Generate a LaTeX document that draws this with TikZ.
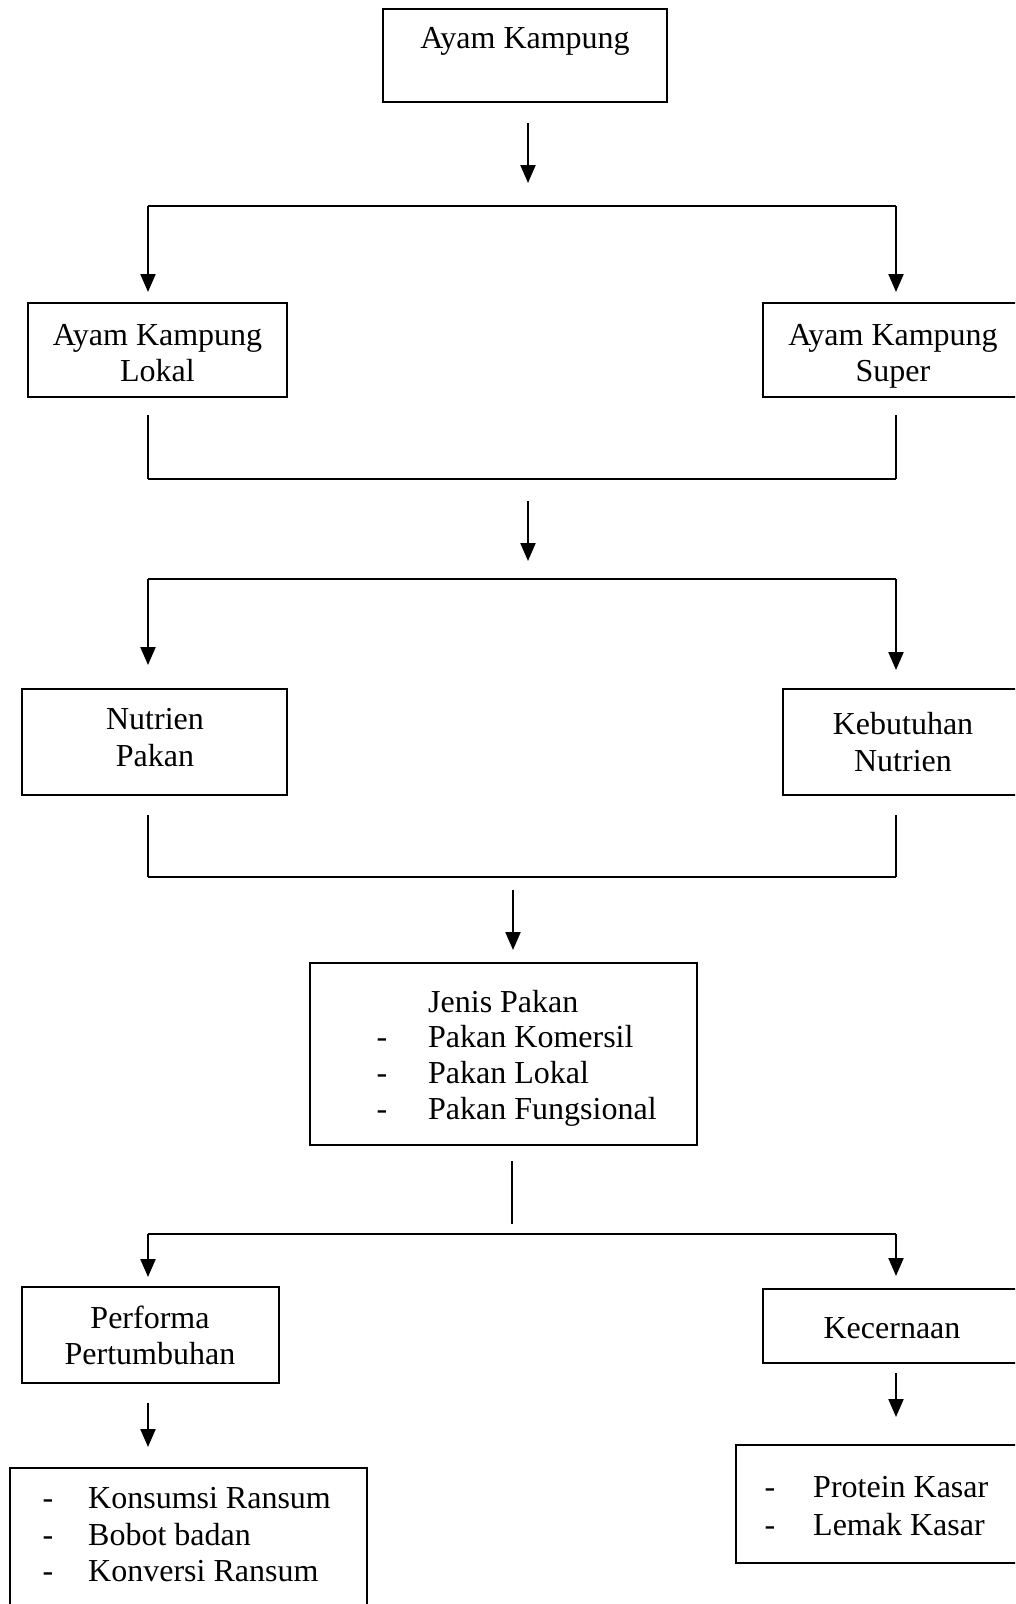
\documentclass[tikz,border=0pt]{standalone}
\usepackage{fontspec}
\setmainfont{Liberation Serif}
\usetikzlibrary{arrows.meta}
\begin{document}
\begin{tikzpicture}[x=1pt,y=-1pt,
  box/.style={draw,line width=2.2pt,inner sep=0pt},
  lbl/.style={anchor=base,inner sep=0pt,font=\fontsize{32}{36}\selectfont},
  lbll/.style={lbl,anchor=base west},
  vline/.style={line width=2.2pt},
  arr/.style={line width=2.2pt,-{Triangle[width=15pt,length=18pt]}},
  hl/.style={line width=1.4pt}]
\useasboundingbox (0,0) rectangle (1015,1604);
\clip (0,0) rectangle (1015,1604);

% boxes
\node[box,minimum width=284pt,minimum height=93pt] (top) at (525,55.5) {};
\node[box,minimum width=259pt,minimum height=94pt] (lokal) at (157.5,350) {};
\node[box,minimum width=277pt,minimum height=94pt] (super) at (901.5,350) {};
\node[box,minimum width=265pt,minimum height=106pt] (nutrien) at (154.5,742) {};
\node[box,minimum width=257pt,minimum height=106pt] (kebutuhan) at (911.5,742) {};
\node[box,minimum width=387pt,minimum height=182pt] (jenis) at (503.5,1054) {};
\node[box,minimum width=257pt,minimum height=96pt] (performa) at (150.5,1335) {};
\node[box,minimum width=277pt,minimum height=74pt] (kecernaan) at (901.5,1326) {};
\node[box,minimum width=304pt,minimum height=118pt] (protein) at (888,1504) {};
\node[box,minimum width=357pt,minimum height=152pt] (konsumsi) at (188.5,1544) {};

% texts
\node[lbl] (t1) at (525,48) {Ayam Kampung};
\node[lbl] (t2a) at (157.5,345) {Ayam Kampung};
\node[lbl] (t2b) at (157.5,381) {Lokal};
\node[lbl] (t3a) at (893,345) {Ayam Kampung};
\node[lbl] (t3b) at (893,381) {Super};
\node[lbl] (t4a) at (155,729) {Nutrien};
\node[lbl] (t4b) at (155,766) {Pakan};
\node[lbl] (t5a) at (903,734) {Kebutuhan};
\node[lbl] (t5b) at (903,771) {Nutrien};
\node[lbll] (t6a) at (428,1012) {Jenis Pakan};
\node[lbl] (d6b) at (382,1047) {-};
\node[lbll] (t6b) at (428,1047) {Pakan Komersil};
\node[lbl] (d6c) at (382,1083) {-};
\node[lbll] (t6c) at (428,1083) {Pakan Lokal};
\node[lbl] (d6d) at (382,1119) {-};
\node[lbll] (t6d) at (428,1119) {Pakan Fungsional};
\node[lbl] (t7a) at (150,1328) {Performa};
\node[lbl] (t7b) at (150,1364) {Pertumbuhan};
\node[lbl] (t8) at (892,1338) {Kecernaan};
\node[lbl] (d9a) at (770,1497) {-};
\node[lbll] (t9a) at (813,1497) {Protein Kasar};
\node[lbl] (d9b) at (770,1535) {-};
\node[lbll] (t9b) at (813,1535) {Lemak Kasar};
\node[lbl] (d10a) at (48,1508) {-};
\node[lbll] (t10a) at (88,1508) {Konsumsi Ransum};
\node[lbl] (d10b) at (48,1545) {-};
\node[lbll] (t10b) at (88,1545) {Bobot badan};
\node[lbl] (d10c) at (48,1581) {-};
\node[lbll] (t10c) at (88,1581) {Konversi Ransum};

% connector coordinates
\coordinate (a1s) at (528,123);  \coordinate (a1e) at (528,183);
\coordinate (h1l) at (148,206);  \coordinate (h1r) at (896,206);
\coordinate (h1lt) at (148,292); \coordinate (h1rt) at (896,292);
\coordinate (v2l) at (148,415);  \coordinate (v2r) at (896,415);
\coordinate (h2l) at (148,479);  \coordinate (h2r) at (896,479);
\coordinate (a2s) at (528,501);  \coordinate (a2e) at (528,561);
\coordinate (h3l) at (148,579);  \coordinate (h3r) at (896,579);
\coordinate (h3lt) at (148,665); \coordinate (h3rt) at (896,670);
\coordinate (v4l) at (148,815);  \coordinate (v4r) at (896,815);
\coordinate (h4l) at (148,877);  \coordinate (h4r) at (896,877);
\coordinate (a3s) at (513,890);  \coordinate (a3e) at (513,950);
\coordinate (v5s) at (512,1161); \coordinate (v5e) at (512,1224);
\coordinate (h5l) at (148,1234); \coordinate (h5r) at (896,1234);
\coordinate (h5lt) at (148,1277); \coordinate (h5rt) at (896,1276);
\coordinate (a6s) at (148,1403); \coordinate (a6e) at (148,1447);
\coordinate (a7s) at (896,1373); \coordinate (a7e) at (896,1417);

% connectors
\draw[arr] (a1s) -- (a1e);
\draw[hl] (h1l) -- (h1r);
\draw[arr] (h1l) -- (h1lt);
\draw[arr] (h1r) -- (h1rt);
\draw[vline] (v2l) -- (h2l);
\draw[vline] (v2r) -- (h2r);
\draw[hl] (h2l) -- (h2r);
\draw[arr] (a2s) -- (a2e);
\draw[hl] (h3l) -- (h3r);
\draw[arr] (h3l) -- (h3lt);
\draw[arr] (h3r) -- (h3rt);
\draw[vline] (v4l) -- (h4l);
\draw[vline] (v4r) -- (h4r);
\draw[hl] (h4l) -- (h4r);
\draw[arr] (a3s) -- (a3e);
\draw[vline] (v5s) -- (v5e);
\draw[hl] (h5l) -- (h5r);
\draw[arr] (h5l) -- (h5lt);
\draw[arr] (h5r) -- (h5rt);
\draw[arr] (a6s) -- (a6e);
\draw[arr] (a7s) -- (a7e);
\end{tikzpicture}
\end{document}
